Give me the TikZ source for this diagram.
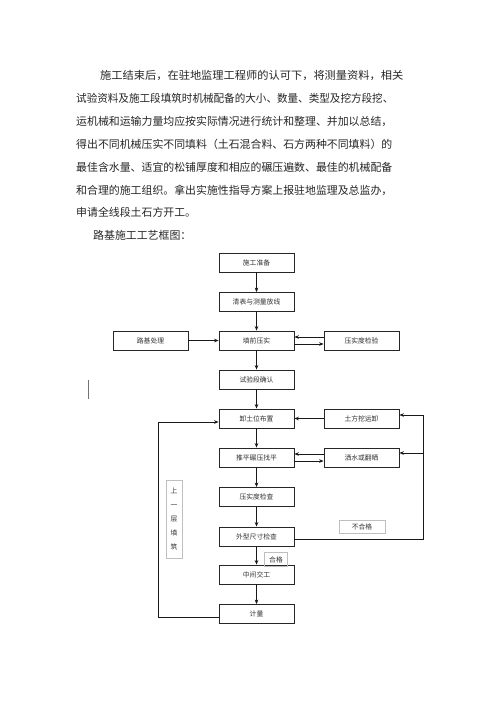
\documentclass[tikz,border=0pt]{standalone}
\usepackage{fontspec}
\setmainfont{Noto Sans CJK SC}
\usetikzlibrary{arrows.meta}
\begin{document}
\begin{tikzpicture}[x=1pt,y=-1pt,
  para/.style={anchor=west,inner sep=0pt,font=\fontsize{10.9}{12}\selectfont,text=black!85},
  box/.style={draw=black!85,line width=0.8pt,minimum width=75pt,minimum height=19pt,inner sep=0pt,font=\fontsize{6.8}{8}\selectfont,text=black!80},
  lbl/.style={draw=black!25,line width=0.5pt,inner sep=0pt,font=\fontsize{6.8}{8}\selectfont,text=black!80},
  arr/.style={line width=0.8pt,draw=black!90,-{Stealth[length=4.5pt,width=3.6pt]}},
  ln/.style={line width=0.8pt,draw=black!90}]
\useasboundingbox (0,0) rectangle (500,707);
\fill[white] (0,0) rectangle (500,707);
% paragraph
\node[para] (p1) at (100,75) {\scalebox{1.03}[1]{施工结束后，在驻地监理工程师的认可下，将测量资料，相关}};
\node[para] (p2) at (76,98) {\scalebox{0.97}[1]{试验资料及施工段填筑时机械配备的大小、数量、类型及挖方段挖、}};
\node[para] (p3) at (76,121) {运机械和运输力量均应按实际情况进行统计和整理、并加以总结，};
\node[para] (p4) at (76,144) {得出不同机械压实不同填料（土石混合料、石方两种不同填料）的};
\node[para] (p5) at (76,167) {最佳含水量、适宜的松铺厚度和相应的碾压遍数、最佳的机械配备};
\node[para] (p6) at (76,190) {和合理的施工组织。拿出实施性指导方案上报驻地监理及总监办，};
\node[para] (p7) at (76,212) {申请全线段土石方开工。};
\node[para] (p8) at (93,235) {路基施工工艺框图：};
% boxes
\node[box] (A) at (256.5,262.5) {施工准备};
\node[box] (B) at (256.5,302) {清表与测量放线};
\node[box] (C) at (256.5,340.5) {填前压实};
\node[box] (D) at (150.5,340.5) {路基处理};
\node[box] (E) at (361.5,340.5) {压实度检验};
\node[box] (F) at (256.5,379.5) {试验段确认};
\node[box] (G) at (256.5,418.5) {卸土位布置};
\node[box] (H) at (361.5,418.5) {土方挖运卸};
\node[box] (I) at (256.5,457.5) {推平碾压找平};
\node[box] (J) at (361.5,457.5) {洒水或翻晒};
\node[box] (K) at (256.5,497) {压实度检查};
\node[box] (L) at (256.5,536.5) {外型尺寸检查};
\node[box] (M) at (256.5,574.5) {中间交工};
\node[box] (N) at (256.5,614) {计量};
% labels
\node[lbl,minimum width=16pt,minimum height=78pt,align=center] (up) at (174,519)
  {上\\[6pt]一\\[6pt]层\\[6pt]填\\[6pt]筑};
\node[lbl,minimum width=46pt,minimum height=13pt] (bh) at (362,527) {不合格};
\node[lbl,minimum width=23pt,minimum height=14pt] (hg) at (276,559.5) {合格};
% vertical arrows
\draw[arr] (A) -- (B);
\draw[arr] (B) -- (C);
\draw[arr] (C) -- (F);
\draw[arr] (F) -- (G);
\draw[arr] (G) -- (I);
\draw[arr] (I) -- (K);
\draw[arr] (K) -- (L);
\draw[arr] (L) -- (M);
\draw[arr] (M) -- (N);
% horizontal arrows
\draw[arr] (D) -- (C);
\draw[arr] ([yshift=-3.5pt]C.east) -- ([yshift=-3.5pt]E.west);
\draw[arr] ([yshift=3.5pt]E.west) -- ([yshift=3.5pt]C.east);
\draw[arr] (H) -- (G);
\draw[arr] ([yshift=-3.5pt]I.east) -- ([yshift=-3.5pt]J.west);
\draw[arr] ([yshift=3.5pt]J.west) -- ([yshift=3.5pt]I.east);
% right loop
\coordinate (r1) at (423,539);
\coordinate (r2) at (423,415);
\coordinate (r3) at (423,453);
\draw[ln] (L.east |- r1) -- (r1) -- (r2);
\draw[arr] (r2) -- (r2 -| H.east);
\draw[arr] (r3) -- (r3 -| J.east);
% left loop
\coordinate (l1) at (158,617);
\coordinate (l2) at (158,422);
\draw[ln] (N.west |- l1) -- (l1) -- (l2);
\draw[arr] (l2) -- (l2 -| G.west);
% stray mark
\coordinate (s1) at (88.5,380);
\coordinate (s2) at (88.5,399);
\draw[line width=1.2pt,black!55] (s1) -- (s2);
\end{tikzpicture}
\end{document}
